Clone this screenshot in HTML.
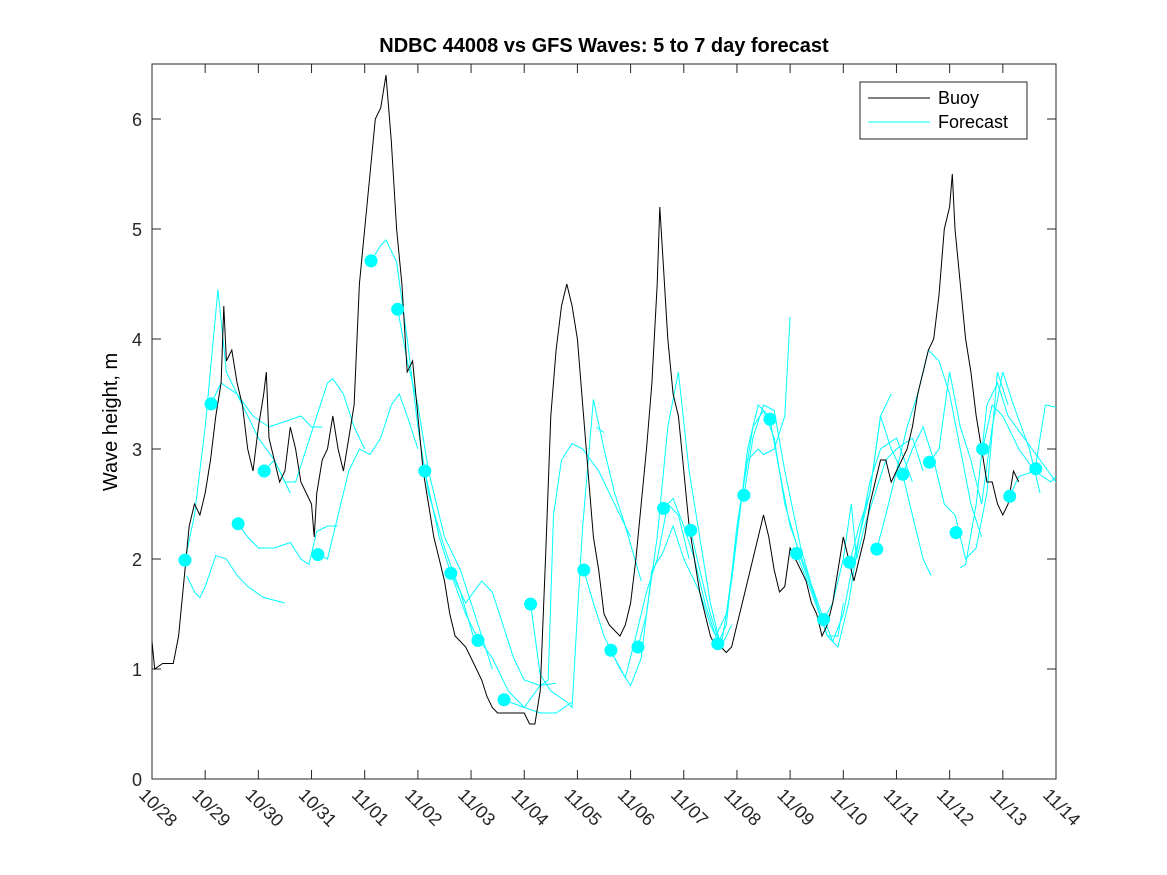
<!DOCTYPE html>
<html><head><meta charset="utf-8"><style>
html,body{margin:0;padding:0;background:#fff;}
svg{display:block;font-family:"Liberation Sans",sans-serif;}
</style></head><body>
<svg id="chart" width="1167" height="875" xmlns="http://www.w3.org/2000/svg">
<rect x="0" y="0" width="1167" height="875" fill="#fff"/>
<text x="604" y="52" text-anchor="middle" font-size="20" font-weight="bold">NDBC 44008 vs GFS Waves: 5 to 7 day forecast</text>
<text transform="translate(117,422) rotate(-90)" text-anchor="middle" font-size="20">Wave height, m</text>
<g id="plot"></g>
</svg>
<script>
const xTickLabels=["10/28","10/29","10/30","10/31","11/01","11/02","11/03","11/04","11/05","11/06","11/07","11/08","11/09","11/10","11/11","11/12","11/13","11/14"];
const yTicks=[0,1,2,3,4,5,6];
const buoyDays=[0,0.05,0.2,0.4,0.5,0.6,0.7,0.8,0.9,1.0,1.1,1.2,1.3,1.35,1.4,1.5,1.6,1.7,1.8,1.9,2.0,2.1,2.15,2.2,2.3,2.4,2.5,2.6,2.7,2.8,2.9,3.0,3.05,3.1,3.2,3.3,3.4,3.5,3.6,3.7,3.8,3.9,4.0,4.1,4.2,4.3,4.4,4.5,4.6,4.7,4.8,4.9,5.0,5.1,5.2,5.3,5.4,5.5,5.6,5.7,5.8,5.9,6.0,6.1,6.2,6.3,6.4,6.5,6.6,6.8,7.0,7.1,7.2,7.3,7.4,7.5,7.6,7.7,7.8,7.9,8.0,8.1,8.2,8.3,8.4,8.5,8.6,8.7,8.8,8.9,9.0,9.1,9.2,9.3,9.4,9.5,9.55,9.6,9.7,9.8,9.9,10.0,10.1,10.2,10.3,10.4,10.5,10.6,10.7,10.8,10.9,11.0,11.1,11.2,11.3,11.4,11.5,11.6,11.7,11.8,11.9,12.0,12.1,12.2,12.3,12.4,12.5,12.6,12.7,12.8,12.9,13.0,13.1,13.2,13.3,13.4,13.5,13.6,13.7,13.8,13.9,14.0,14.1,14.2,14.3,14.4,14.5,14.6,14.7,14.8,14.9,15.0,15.05,15.1,15.2,15.3,15.4,15.5,15.6,15.7,15.8,15.9,16.0,16.1,16.2,16.3];
const buoyValues=[1.25,1.0,1.05,1.05,1.3,1.8,2.3,2.5,2.4,2.6,2.9,3.3,3.6,4.3,3.8,3.9,3.6,3.4,3.0,2.8,3.2,3.5,3.7,3.1,2.9,2.7,2.8,3.2,3.0,2.7,2.6,2.5,2.2,2.6,2.9,3.0,3.3,3.0,2.8,3.1,3.4,4.5,5.0,5.5,6.0,6.1,6.4,5.8,5.0,4.5,3.7,3.8,3.3,2.8,2.5,2.2,2.0,1.8,1.5,1.3,1.25,1.2,1.1,1.0,0.9,0.75,0.65,0.6,0.6,0.6,0.6,0.5,0.5,0.8,2.0,3.3,3.9,4.3,4.5,4.3,4.0,3.4,2.8,2.2,1.9,1.5,1.4,1.35,1.3,1.4,1.6,2.0,2.5,3.0,3.6,4.5,5.2,4.8,4.0,3.5,3.3,2.8,2.3,2.0,1.7,1.5,1.3,1.2,1.2,1.15,1.2,1.4,1.6,1.8,2.0,2.2,2.4,2.2,1.9,1.7,1.75,2.1,2.0,1.9,1.8,1.6,1.5,1.3,1.4,1.6,1.9,2.2,2.0,1.8,2.0,2.2,2.5,2.7,2.9,2.9,2.7,2.8,2.9,3.0,3.2,3.5,3.7,3.9,4.0,4.4,5.0,5.2,5.5,5.0,4.5,4.0,3.7,3.3,3.0,2.7,2.7,2.5,2.4,2.5,2.8,2.7];
const dotDays=[0.62,1.11,1.62,2.11,3.12,4.12,4.62,5.13,5.62,6.13,6.62,7.12,8.12,8.63,9.14,9.62,10.13,10.64,11.13,11.62,12.12,12.63,13.12,13.63,14.12,14.62,15.12,15.62,16.13,16.62];
const dotValues=[1.99,3.41,2.32,2.80,2.04,4.71,4.27,2.80,1.87,1.26,0.72,1.59,1.90,1.17,1.20,2.46,2.26,1.23,2.58,3.27,2.05,1.45,1.97,2.09,2.77,2.88,2.24,3.00,2.57,2.82];
const forecastRuns=[
[[0.65,1.85],[0.8,1.7],[0.9,1.65],[1.0,1.75],[1.2,2.03],[1.4,2.0],[1.6,1.85],[1.8,1.75],[2.1,1.65],[2.5,1.6]],
[[0.62,1.99],[0.8,2.4],[1.0,3.2],[1.24,4.45],[1.4,3.7],[1.7,3.4],[2.0,3.1],[2.3,2.9],[2.6,2.6]],
[[1.11,3.41],[1.3,3.6],[1.6,3.5],[1.9,3.3],[2.2,3.2],[2.5,3.25],[2.8,3.3],[3.0,3.2],[3.2,3.2]],
[[1.62,2.32],[1.8,2.2],[2.0,2.1],[2.3,2.1],[2.6,2.15],[2.8,2.0],[2.95,1.95],[3.1,2.25],[3.3,2.3],[3.5,2.3]],
[[2.11,2.8],[2.3,2.9],[2.5,2.7],[2.7,2.7],[2.9,3.0],[3.1,3.3],[3.3,3.6],[3.4,3.64],[3.6,3.5],[3.8,3.2],[4.0,3.0]],
[[3.12,2.04],[3.3,2.0],[3.5,2.4],[3.7,2.8],[3.9,3.0],[4.1,2.95],[4.3,3.1],[4.5,3.4],[4.65,3.5],[4.8,3.3],[5.0,3.0]],
[[4.12,4.71],[4.3,4.85],[4.4,4.9],[4.6,4.7],[4.8,4.0],[5.0,3.2],[5.2,2.6],[5.5,2.1],[5.8,1.7],[6.1,1.2]],
[[4.62,4.27],[4.8,3.8],[5.0,3.4],[5.2,2.8],[5.5,2.2],[5.8,1.9],[6.0,1.6],[6.2,1.3],[6.4,1.0]],
[[5.13,2.8],[5.4,2.2],[5.6,1.9],[5.9,1.6],[6.2,1.8],[6.4,1.7],[6.6,1.4],[6.8,1.1],[7.0,0.9],[7.3,0.85],[7.6,0.87]],
[[5.62,1.87],[5.9,1.5],[6.1,1.3],[6.4,1.1],[6.7,0.8],[7.0,0.65],[7.3,0.6],[7.6,0.6],[7.9,0.7]],
[[6.62,0.72],[7.0,0.65],[7.3,0.85],[7.45,0.9],[7.55,2.4],[7.7,2.9],[7.9,3.05],[8.1,3.0],[8.4,2.8],[8.7,2.5],[9.0,2.2]],
[[7.12,1.59],[7.3,0.95],[7.5,0.8],[7.8,0.7],[7.9,0.65],[8.0,1.5],[8.1,2.3],[8.3,3.45],[8.5,3.0],[8.7,2.6],[8.9,2.3],[9.2,1.8]],
[[8.12,1.90],[8.3,1.6],[8.5,1.3],[8.7,1.1],[8.9,0.92],[9.1,1.3],[9.3,1.7],[9.5,2.0],[9.7,2.5],[9.9,2.4],[10.1,2.0]],
[[8.35,3.2],[8.5,3.15]],
[[8.63,1.17],[8.8,1.0],[9.0,0.85],[9.2,1.1],[9.4,1.9],[9.6,2.05],[9.8,2.3],[10.0,2.0],[10.3,1.7],[10.5,1.4],[10.7,1.2]],
[[9.14,1.20],[9.3,1.5],[9.5,2.2],[9.7,3.2],[9.9,3.7],[10.1,2.8],[10.3,2.2],[10.5,1.6],[10.7,1.2],[10.9,1.4]],
[[9.62,2.46],[9.8,2.55],[10.0,2.3],[10.2,2.0],[10.4,1.6],[10.6,1.3],[10.8,1.5],[11.0,2.2],[11.2,3.0],[11.4,3.4],[11.6,3.3]],
[[10.13,2.26],[10.3,1.9],[10.5,1.5],[10.7,1.2],[10.9,1.8],[11.1,2.6],[11.3,3.2],[11.5,3.35],[11.7,3.1],[11.9,2.5],[12.2,2.0],[12.5,1.6]],
[[10.64,1.23],[10.8,1.4],[11.0,2.3],[11.2,2.9],[11.4,3.0],[11.5,2.95],[11.7,3.0],[11.9,3.3],[12.0,4.2]],
[[11.13,2.58],[11.3,3.1],[11.5,3.4],[11.7,3.35],[11.9,2.8],[12.2,2.1],[12.5,1.6],[12.7,1.3],[12.9,1.3],[13.0,1.6]],
[[11.62,3.27],[11.8,2.8],[12.0,2.3],[12.3,1.9],[12.6,1.5],[12.8,1.25],[13.0,1.5],[13.2,2.0],[13.5,2.6],[13.7,3.3],[13.9,3.5]],
[[12.12,2.05],[12.4,1.7],[12.7,1.3],[12.9,1.2],[13.1,1.6],[13.3,2.2],[13.5,2.7],[13.7,3.0],[14.0,3.1],[14.3,2.7]],
[[12.63,1.45],[12.8,1.6],[13.0,2.0],[13.15,2.5],[13.25,2.0],[13.4,2.3],[13.6,2.6],[13.8,2.9],[14.0,3.0],[14.3,3.1],[14.5,2.8]],
[[13.12,1.97],[13.3,2.3],[13.5,2.6],[13.7,3.3],[13.9,3.0],[14.1,2.8],[14.3,2.4],[14.5,2.0],[14.65,1.85]],
[[13.63,2.09],[13.8,2.4],[14.0,2.8],[14.2,3.2],[14.4,3.5],[14.6,3.9],[14.8,3.8],[15.0,3.5],[15.2,3.0],[15.4,2.5],[15.6,2.2]],
[[14.12,2.77],[14.3,3.0],[14.5,3.2],[14.7,2.9],[14.9,2.5],[15.1,2.4],[15.3,2.0],[15.5,2.1],[15.7,2.6],[15.9,3.7],[16.1,3.4]],
[[14.62,2.88],[14.8,3.0],[15.0,3.7],[15.2,3.2],[15.4,2.9],[15.6,2.5],[15.8,3.2],[16.0,3.7],[16.2,3.4],[16.5,3.0],[16.7,2.6]],
[[15.2,1.92],[15.3,1.95],[15.5,2.5],[15.7,3.4],[15.9,3.6],[16.1,3.3],[16.4,3.1],[16.7,2.9],[17,2.7]],
[[15.62,3.0],[15.8,3.4],[16.0,3.3],[16.3,3.0],[16.6,2.8],[16.8,3.4],[17,3.38]],
[[16.13,2.57],[16.3,2.75],[16.6,2.8],[16.9,2.7],[17,2.75]]
];
const NS="http://www.w3.org/2000/svg";
const L=152,R=1056,T=64,B=779;
const xS=d=>L+(d/17)*(R-L);
const yS=v=>B-(v/6.5)*(B-T);
const g=document.getElementById('plot');
function mk(tag,attrs){const e=document.createElementNS(NS,tag);for(const k in attrs)e.setAttribute(k,attrs[k]);g.appendChild(e);return e;}
const clip=document.createElementNS(NS,'clipPath');clip.setAttribute('id','pc');
const cr=document.createElementNS(NS,'rect');cr.setAttribute('x',L);cr.setAttribute('y',T);cr.setAttribute('width',R-L);cr.setAttribute('height',B-T);clip.appendChild(cr);g.appendChild(clip);
const frame=mk('rect',{x:L,y:T,width:R-L,height:B-T,fill:'#fff',stroke:'#262626','stroke-width':1});


yTicks.forEach(v=>{
  const y=yS(v);
  const t1=mk('line',{x1:L,x2:L+9,y1:y,y2:y,stroke:'#262626'});
  
  
  const t2=mk('line',{x1:R-9,x2:R,y1:y,y2:y,stroke:'#262626'});
  
  
  const tx=mk('text',{x:L-10,y:y+7,'text-anchor':'end','font-size':'18',fill:'#262626'});
  tx.textContent=v;
  
  
});
xTickLabels.forEach((lab,i)=>{
  const x=xS(i);
  const t1=mk('line',{x1:x,x2:x,y1:B,y2:B-9,stroke:'#262626'});
  
  
  const t2=mk('line',{x1:x,x2:x,y1:T,y2:T+9,stroke:'#262626'});
  
  
  const tx=mk('text',{transform:`translate(${x-14},${B+17}) rotate(45)`,'font-size':'18',fill:'#262626'});
  tx.textContent=lab;
  
  
});
const cg=document.createElementNS(NS,'g');cg.setAttribute('clip-path','url(#pc)');g.appendChild(cg);
function path(pts,attrs){const e=document.createElementNS(NS,'path');e.setAttribute('d',pts.map((p,i)=>(i?'L':'M')+xS(p[0]).toFixed(1)+','+yS(p[1]).toFixed(1)).join(''));for(const k in attrs)e.setAttribute(k,attrs[k]);cg.appendChild(e);return e;}
forecastRuns.forEach(run=>{
  const e=path(run,{fill:'none',stroke:'#00ffff','stroke-width':1});
  
  
});
const bp=path(buoyDays.map((d,i)=>[d,buoyValues[i]]),{fill:'none',stroke:'#000','stroke-width':1});


dotDays.forEach((d,i)=>{
  const c=document.createElementNS(NS,'circle');
  c.setAttribute('cx',xS(d));c.setAttribute('cy',yS(dotValues[i]));c.setAttribute('r',6.5);c.setAttribute('fill','#00ffff');
  
  
  cg.appendChild(c);
});
const lg=mk('rect',{x:860,y:82,width:167,height:57,fill:'#fff',stroke:'#262626'});


const l1=mk('line',{x1:868,x2:930,y1:98,y2:98,stroke:'#000'});


const t1=mk('text',{x:938,y:104,'font-size':'18',fill:'#000'});t1.textContent='Buoy';


const l2=mk('line',{x1:868,x2:930,y1:122,y2:122,stroke:'#00ffff'});


const t2=mk('text',{x:938,y:128,'font-size':'18',fill:'#000'});t2.textContent='Forecast';


</script>
</body></html>
